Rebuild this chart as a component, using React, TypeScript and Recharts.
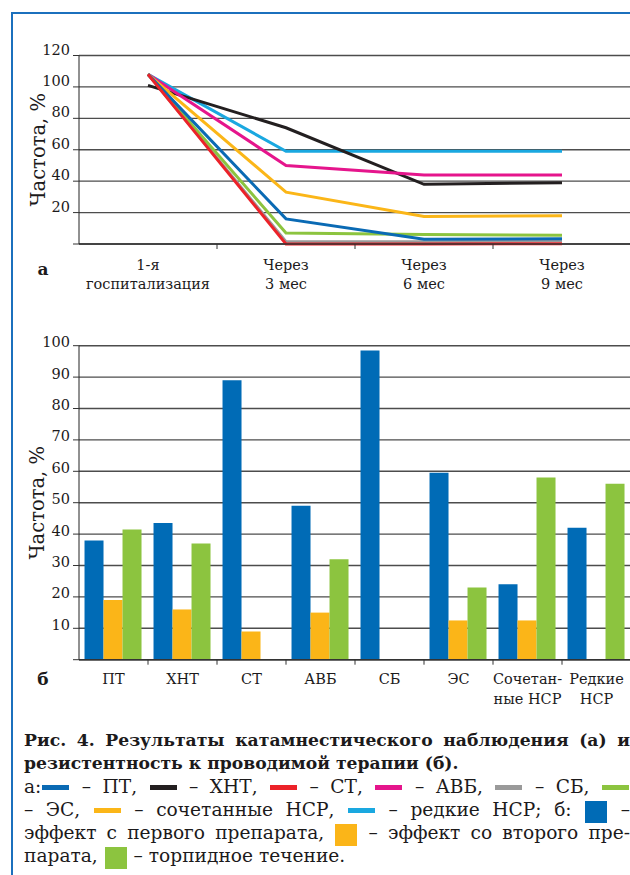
import React from 'react';
import { LineChart, Line, BarChart, Bar, XAxis, YAxis, CartesianGrid, Label } from 'recharts';

// ---------- Chart (а): follow-up ----------
const periods = ['1-я госпитализация', 'Через 3 мес', 'Через 6 мес', 'Через 9 мес'];
const periodLines = [['1-я', 'госпитализация'], ['Через', '3 мес'], ['Через', '6 мес'], ['Через', '9 мес']];
const topTicks = [0, 20, 40, 60, 80, 100, 120];

const ptLine = [108, 16, 3, 3.4];
const khntLine = [101, 74, 38, 39];
const stLine = [108, 0, 0, 0.2];
const avbLine = [108, 50, 44, 44];
const sbLine = [108, 1.5, 1.5, 2];
const esLine = [108, 7, 6, 5.5];
const combinedLine = [108, 33, 17.5, 18];
const rareLine = [108, 59, 59, 59];

// ---------- Chart (б): resistance ----------
const groups = ['ПТ', 'ХНТ', 'СТ', 'АВБ', 'СБ', 'ЭС', 'Сочетанные НСР', 'Редкие НСР'];
const groupLines = [['ПТ'], ['ХНТ'], ['СТ'], ['АВБ'], ['СБ'], ['ЭС'], ['Сочетан-', 'ные НСР'], ['Редкие', 'НСР']];
const bottomTicks = [0, 10, 20, 30, 40, 50, 60, 70, 80, 90, 100];

const firstDrug = [38, 43.5, 89, 49, 98.5, 59.5, 24, 42];
const secondDrug = [19, 16, 9, 15, 0, 12.5, 12.5, 0];
const torpid = [41.5, 37, 0, 32, 0, 23, 58, 56];

const C = {
  blue: '#0a6ab4',
  black: '#231f20',
  red: '#ec2229',
  pink: '#e5158c',
  gray: '#9a9a9a',
  green: '#8cc43f',
  orange: '#fbb618',
  cyan: '#1aa8e0',
  barBlue: '#006bb6',
  barOrange: '#fbb518',
  barGreen: '#8cc43f',
  frame: '#1b70bd',
  text: '#1c1a1b',
  grid: '#4d4d4d',
};

const FONT = 'DejaVu Serif';

const lineData = periods.map((p, i) => ({
  period: p,
  pt: ptLine[i],
  khnt: khntLine[i],
  st: stLine[i],
  avb: avbLine[i],
  sb: sbLine[i],
  es: esLine[i],
  combined: combinedLine[i],
  rare: rareLine[i],
}));

const barData = groups.map((g, i) => ({
  group: g,
  first: firstDrug[i],
  second: secondDrug[i],
  torpid: torpid[i],
}));

const lineSeries = [
  { key: 'sb', color: C.gray },
  { key: 'rare', color: C.cyan },
  { key: 'khnt', color: C.black },
  { key: 'avb', color: C.pink },
  { key: 'combined', color: C.orange },
  { key: 'es', color: C.green },
  { key: 'pt', color: C.blue },
  { key: 'st', color: C.red },
];

const makeYTick = (dy: number) => (props: any) => {
  const { x, y, payload } = props;
  if (payload.value === 0) return <g />;
  return (
    <text x={x} y={y + dy} textAnchor="end" fontFamily={FONT} fontSize={14.5} fill={C.text}>
      {payload.value}
    </text>
  );
};

const makeXTick = (lines: string[][], count: number, plotWidth: number, first: number, step: number) => (props: any) => {
  const { x, y, payload, index } = props;
  const off = payload && typeof payload.offset === 'number' && payload.offset > 0 ? payload.offset : plotWidth / count / 2;
  const ls = lines[index] || [];
  return (
    <g>
      <line x1={x + off} x2={x + off} y1={y} y2={y + 5} stroke="#333" strokeWidth={1} />
      {ls.map((t, i) => (
        <text key={i} x={x} y={y + first + i * step} textAnchor="middle" fontFamily={FONT} fontSize={14.5} fill={C.text}>
          {t}
        </text>
      ))}
    </g>
  );
};

const yLabel = (props: any) => {
  const vb = props.viewBox || { x: 0, y: 0, width: 0, height: 0 };
  const cx = vb.x + 38;
  const cy = vb.y + vb.height / 2;
  return (
    <text
      x={cx}
      y={cy}
      transform={`rotate(-90, ${cx}, ${cy})`}
      textAnchor="middle"
      dominantBaseline="central"
      fontFamily={FONT}
      fontSize={19.5}
      fill={C.text}
    >
      Частота, %
    </text>
  );
};

const panelLabel = (letter: string, dy: number) => (props: any) => {
  const vb = props.viewBox || { x: 0, y: 0 };
  return (
    <text x={vb.x - 36} y={vb.y + dy} textAnchor="middle" fontFamily={FONT} fontWeight="bold" fontSize={17} fill={C.text}>
      {letter}
    </text>
  );
};

const CHART_W = 640;
const Y_W = 79;
const M_RIGHT = 9;
const PLOT_W = CHART_W - Y_W - M_RIGHT;

const Dash = ({ color }: { color: string }) => (
  <span style={{ display: 'inline-block', width: 27, height: 5, background: color, verticalAlign: '3.5px', margin: '0 1px' }} />
);
const Square = ({ color }: { color: string }) => (
  <span style={{ display: 'inline-block', width: 22, height: 22, background: color, verticalAlign: '-7px', margin: '0 1px' }} />
);

const lineBase: React.CSSProperties = {
  height: 23,
  lineHeight: '23px',
  whiteSpace: 'nowrap',
  overflow: 'visible',
};
const justify: React.CSSProperties = { ...lineBase, textAlign: 'justify', textAlignLast: 'justify' as any };
const left: React.CSSProperties = { ...lineBase, textAlign: 'left' };

export default function App() {
  return (
    <div
      style={{
        position: 'absolute',
        left: 0,
        top: 0,
        width: 630,
        height: 875,
        overflow: 'hidden',
        background: '#ffffff',
        fontFamily: FONT,
        color: C.text,
      }}
    >
      <div
        style={{
          position: 'absolute',
          left: 11,
          top: 12,
          width: 700,
          height: 900,
          borderTop: `2px solid ${C.frame}`,
          borderLeft: `2px solid ${C.frame}`,
        }}
      />

      <div style={{ position: 'absolute', left: 0, top: 0 }}>
        <LineChart width={CHART_W} height={300} data={lineData} margin={{ top: 55.5, right: M_RIGHT, left: 0, bottom: 6 }}>
          <CartesianGrid vertical={false} stroke={C.grid} strokeWidth={1.4} />
          <XAxis
            dataKey="period"
            scale="band"
            type="category"
            interval={0}
            height={50}
            tickSize={0}
            tickMargin={0}
            tickLine={false}
            axisLine={{ stroke: '#333', strokeWidth: 1.4 }}
            tick={makeXTick(periodLines, periods.length, PLOT_W, 26, 18.5)}
          >
            <Label content={panelLabel('а', 31)} />
          </XAxis>
          <YAxis
            width={Y_W}
            domain={[0, 120]}
            ticks={topTicks}
            interval={0}
            tickSize={6}
            tickMargin={3}
            tickLine={{ stroke: '#333' }}
            axisLine={{ stroke: '#222' }}
            tick={makeYTick(-1)}
          >
            <Label content={yLabel} />
          </YAxis>
          {lineSeries.map((s) => (
            <Line
              key={s.key}
              type="linear"
              dataKey={s.key}
              stroke={s.color}
              strokeWidth={3}
              dot={false}
              activeDot={false}
              isAnimationActive={false}
            />
          ))}
        </LineChart>
      </div>

      <div style={{ position: 'absolute', left: 0, top: 300 }}>
        <BarChart
          width={CHART_W}
          height={420}
          data={barData}
          margin={{ top: 45.7, right: M_RIGHT, left: 0, bottom: 10.3 }}
          barCategoryGap="8%"
          barGap={0}
        >
          <CartesianGrid vertical={false} stroke={C.grid} strokeWidth={1.4} />
          <XAxis
            dataKey="group"
            type="category"
            interval={0}
            height={50}
            tickSize={0}
            tickMargin={0}
            tickLine={false}
            axisLine={{ stroke: '#333', strokeWidth: 1.4 }}
            tick={makeXTick(groupLines, groups.length, PLOT_W, 24.5, 19.5)}
          >
            <Label content={panelLabel('б', 25.5)} />
          </XAxis>
          <YAxis
            width={Y_W}
            domain={[0, 100]}
            ticks={bottomTicks}
            interval={0}
            tickSize={6}
            tickMargin={3}
            tickLine={{ stroke: '#333' }}
            axisLine={{ stroke: '#222' }}
            tick={makeYTick(1.5)}
          >
            <Label content={yLabel} />
          </YAxis>
          <Bar dataKey="first" fill={C.barBlue} isAnimationActive={false} />
          <Bar dataKey="second" fill={C.barOrange} isAnimationActive={false} />
          <Bar dataKey="torpid" fill={C.barGreen} isAnimationActive={false} />
        </BarChart>
      </div>

      <div style={{ position: 'absolute', left: 24, top: 729, width: 606, fontSize: 18.6 }}>
        <div style={{ ...justify, fontWeight: 'bold', fontSize: 17.2 }}>
          Рис. 4. Результаты катамнестического наблюдения (а) и
        </div>
        <div style={{ ...left, fontWeight: 'bold', fontSize: 17.2 }}>резистентность к проводимой терапии (б).</div>
        <div style={justify}>
          а:<Dash color={C.blue} /> – ПТ, <Dash color={C.black} /> – ХНТ, <Dash color={C.red} /> – СТ,{' '}
          <Dash color={C.pink} /> – АВБ, <Dash color={C.gray} /> – СБ, <Dash color={C.green} />
        </div>
        <div style={justify}>
          – ЭС, <Dash color={C.orange} /> – сочетанные НСР, <Dash color={C.cyan} /> – редкие НСР; б: <Square color={C.barBlue} /> –
        </div>
        <div style={justify}>
          эффект с первого препарата, <Square color={C.barOrange} /> – эффект со второго пре-
        </div>
        <div style={left}>
          парата, <Square color={C.barGreen} /> – торпидное течение.
        </div>
      </div>
    </div>
  );
}
